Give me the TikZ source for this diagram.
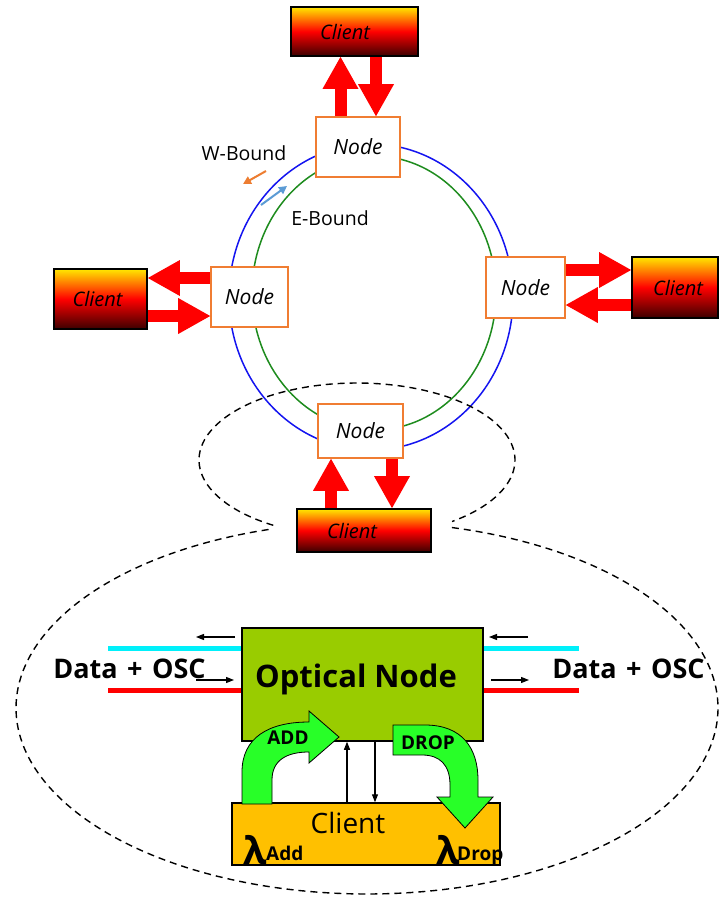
\documentclass[tikz,border=0pt]{standalone}
\usepackage{fontspec}
\setmainfont{Open Sans}
\usetikzlibrary{arrows.meta}
\definecolor{nodeorange}{RGB}{240,125,50}
\definecolor{ringblue}{RGB}{20,20,240}
\definecolor{ringgreen}{RGB}{30,140,30}
\definecolor{cliyel}{RGB}{255,232,0}
\definecolor{clidark}{RGB}{60,0,0}
\definecolor{optgreen}{RGB}{153,204,0}
\definecolor{cligold}{RGB}{255,192,0}
\definecolor{addgreen}{RGB}{40,255,40}
\definecolor{cyanline}{RGB}{0,240,250}
\definecolor{warrow}{RGB}{237,125,49}
\definecolor{earrow}{RGB}{91,155,213}
\newcommand{\fs}[1]{\fontsize{#1}{#1}\selectfont}
\begin{document}
\begin{tikzpicture}[x=1pt,y=-1pt,
  ringnode/.style={draw=nodeorange, line width=1.6pt, fill=white, inner sep=0pt, font=\itshape\fs{21}},
  clientbox/.style={draw=black, line width=1.8pt, top color=cliyel, bottom color=clidark, middle color=red, inner sep=0pt, font=\itshape\fs{20}},
  redarr/.style={draw=red, line width=12pt, -{Triangle[length=32pt,width=36pt,line width=0pt]}},
  smallarr/.style={draw=black, line width=1.2pt, -{Triangle[length=8pt,width=6pt]}},
  outline/.style={draw=black, line width=1.4pt, dash pattern=on 7pt off 5pt},
  greenarr/.style={draw=black, line width=0.8pt, fill=addgreen},
  lbl/.style={inner sep=0pt, font=\fs{19.5}}
]
\useasboundingbox (0,0) rectangle (720,900);
\fill[white] (0,0) rectangle (720,900);

% ring
\draw[ringblue, line width=1.5pt] (371,297) ellipse [x radius=142pt, y radius=153pt];
\draw[ringgreen, line width=1.5pt] (374,293) ellipse [x radius=122pt, y radius=137pt];

% dashed magnifier outline
\draw[outline] plot[domain=122:413, samples=120, smooth] ({357+158*cos(\x)},{460+77*sin(\x)});
\draw[outline] plot[domain=-76:254.5, samples=160, smooth] ({367+351*cos(\x)},{708+186*sin(\x)});

% ring nodes
\node[ringnode, minimum width=84pt, minimum height=60pt] (tn) at (358,147) {Node};
\node[ringnode, minimum width=77pt, minimum height=60pt] (ln) at (249.5,297) {Node};
\node[ringnode, minimum width=79pt, minimum height=61pt] (rn) at (525.5,287.5) {Node};
\node[ringnode, minimum width=85pt, minimum height=54pt] (bn) at (360.5,431) {Node};

% clients
\node[clientbox, minimum width=127pt, minimum height=49pt] (tc) at (354.5,31.5) {Client\hspace*{19pt}};
\node[clientbox, minimum width=93pt, minimum height=60pt] (lc) at (100.5,299) {Client\hspace*{6pt}};
\node[clientbox, minimum width=86pt, minimum height=61pt] (rc) at (675,287.5) {\hspace*{6pt}Client};
\node[clientbox, minimum width=134pt, minimum height=43pt] (bc) at (364,530.5) {Client\hspace*{24pt}};

% labels
\node[lbl] (wb) at (244,153) {W-Bound};
\node[lbl] (eb) at (330,218) {E-Bound};
\coordinate (wa1) at (266,171);
\coordinate (wa2) at (243,184);
\coordinate (ea1) at (261,205);
\coordinate (ea2) at (287,186);
\draw[warrow, line width=2pt, -{Triangle[length=8pt,width=8pt]}] (wa1) -- (wa2);
\draw[earrow, line width=2pt, -{Triangle[length=8pt,width=8pt]}] (ea1) -- (ea2);

% red block arrows
\coordinate (tup) at ([xshift=-17.5pt]tn.north);
\coordinate (tdn) at ([xshift=18pt]tn.north);
\draw[redarr] (tup) -- (tup |- tc.south);
\draw[redarr] (tdn |- tc.south) -- (tdn);

\coordinate (lup) at ([yshift=19pt]ln.west);
\coordinate (ldn) at ([yshift=-19pt]ln.west);
\draw[redarr] (lup) -- (lup -| lc.east);
\draw[redarr] (ldn -| lc.east) -- (ldn);

\coordinate (rup) at ([yshift=17.5pt]rn.east);
\coordinate (rdn) at ([yshift=-17.5pt]rn.east);
\draw[redarr] (rup) -- (rup -| rc.west);
\draw[redarr] (rdn -| rc.west) -- (rdn);

\coordinate (bup) at ([xshift=-29.5pt]bn.south);
\coordinate (bdn) at ([xshift=31.5pt]bn.south);
\draw[redarr] (bup |- bc.north) -- (bup);
\draw[redarr] (bdn) -- (bdn |- bc.north);

% ===== detail view =====
\node[draw=black, line width=1.5pt, fill=optgreen, minimum width=241pt, minimum height=113pt, inner sep=0pt] (on) at (362.5,684.5) {};
\node[inner sep=0pt, anchor=base, font=\bfseries\fs{31}] (ontext) at (356,687) {Optical Node};

\coordinate (cyl) at ([yshift=36.5pt]on.west);
\coordinate (cyr) at ([yshift=36.5pt]on.east);
\coordinate (rdl) at ([yshift=-5.5pt]on.west);
\coordinate (rdr) at ([yshift=-5.5pt]on.east);
\coordinate (cylend) at (108,648);
\coordinate (cyrend) at (579,648);
\coordinate (rdlend) at (108,690);
\coordinate (rdrend) at (579,690);
\draw[cyanline, line width=5pt] (cyl) -- (cylend);
\draw[cyanline, line width=5pt] (cyr) -- (cyrend);
\draw[red, line width=5pt] (rdl) -- (rdlend);
\draw[red, line width=5pt] (rdr) -- (rdrend);

\coordinate (a1s) at (235,637); \coordinate (a1e) at (196,637);
\coordinate (a2s) at (196,680); \coordinate (a2e) at (234,680);
\coordinate (a3s) at (528,637); \coordinate (a3e) at (489,637);
\coordinate (a4s) at (491,680); \coordinate (a4e) at (529,680);
\draw[smallarr] (a1s) -- (a1e);
\draw[smallarr] (a2s) -- (a2e);
\draw[smallarr] (a3s) -- (a3e);
\draw[smallarr] (a4s) -- (a4e);

\node[inner sep=0pt, anchor=base, font=\bfseries\fs{27}] (dl) at (129.5,678) {Data\hspace{0.35em}+\hspace{0.35em}OSC};
\node[inner sep=0pt, anchor=base, font=\bfseries\fs{27}] (dr) at (628.5,678) {Data\hspace{0.35em}+\hspace{0.35em}OSC};

% client (detail)
\node[draw=black, line width=1.5pt, fill=cligold, minimum width=268pt, minimum height=62pt, inner sep=0pt] (cl) at (366,834) {};
\node[inner sep=0pt, font=\fs{28}] (cltext) at (348,823) {Client};
\node[inner sep=0pt, anchor=base west, font=\bfseries\fs{38}] (lam1) at (243,864) {λ};
\node[inner sep=0pt, anchor=base west, font=\bfseries\fs{19}] (add1) at (266,860) {Add};
\node[inner sep=0pt, anchor=base west, font=\bfseries\fs{38}] (lam2) at (436,864) {λ};
\node[inner sep=0pt, anchor=base west, font=\bfseries\fs{19}] (drop1) at (457,860) {Drop};

% ADD arrow
\path[greenarr] (242,804) -- (242,772) .. controls (242,738) and (268,722) .. (309,722)
  -- (309,711) -- (339,737) -- (309,763) -- (309,752)
  .. controls (287,752) and (272,760) .. (272,780) -- (272,804) -- cycle;
\node[inner sep=0pt, font=\bfseries\fs{19}] (addt) at (288,738) {ADD};

% DROP arrow
\path[greenarr] (393,725) -- (425,725) .. controls (462,725) and (478,748) .. (478,780)
  -- (478,797) -- (493,797) -- (465,828) -- (437,797) -- (450,797) -- (450,785)
  .. controls (450,765) and (440,755) .. (422,755) -- (393,755) -- cycle;
\node[inner sep=0pt, font=\bfseries\fs{19}] (dropt) at (428,743) {DROP};

% black vertical arrows
\coordinate (cup) at ([xshift=-15.5pt]on.south);
\coordinate (cdn) at ([xshift=12.5pt]on.south);
\draw[smallarr] (cup |- cl.north) -- (cup);
\draw[smallarr] (cdn) -- (cdn |- cl.north);
\end{tikzpicture}
\end{document}
